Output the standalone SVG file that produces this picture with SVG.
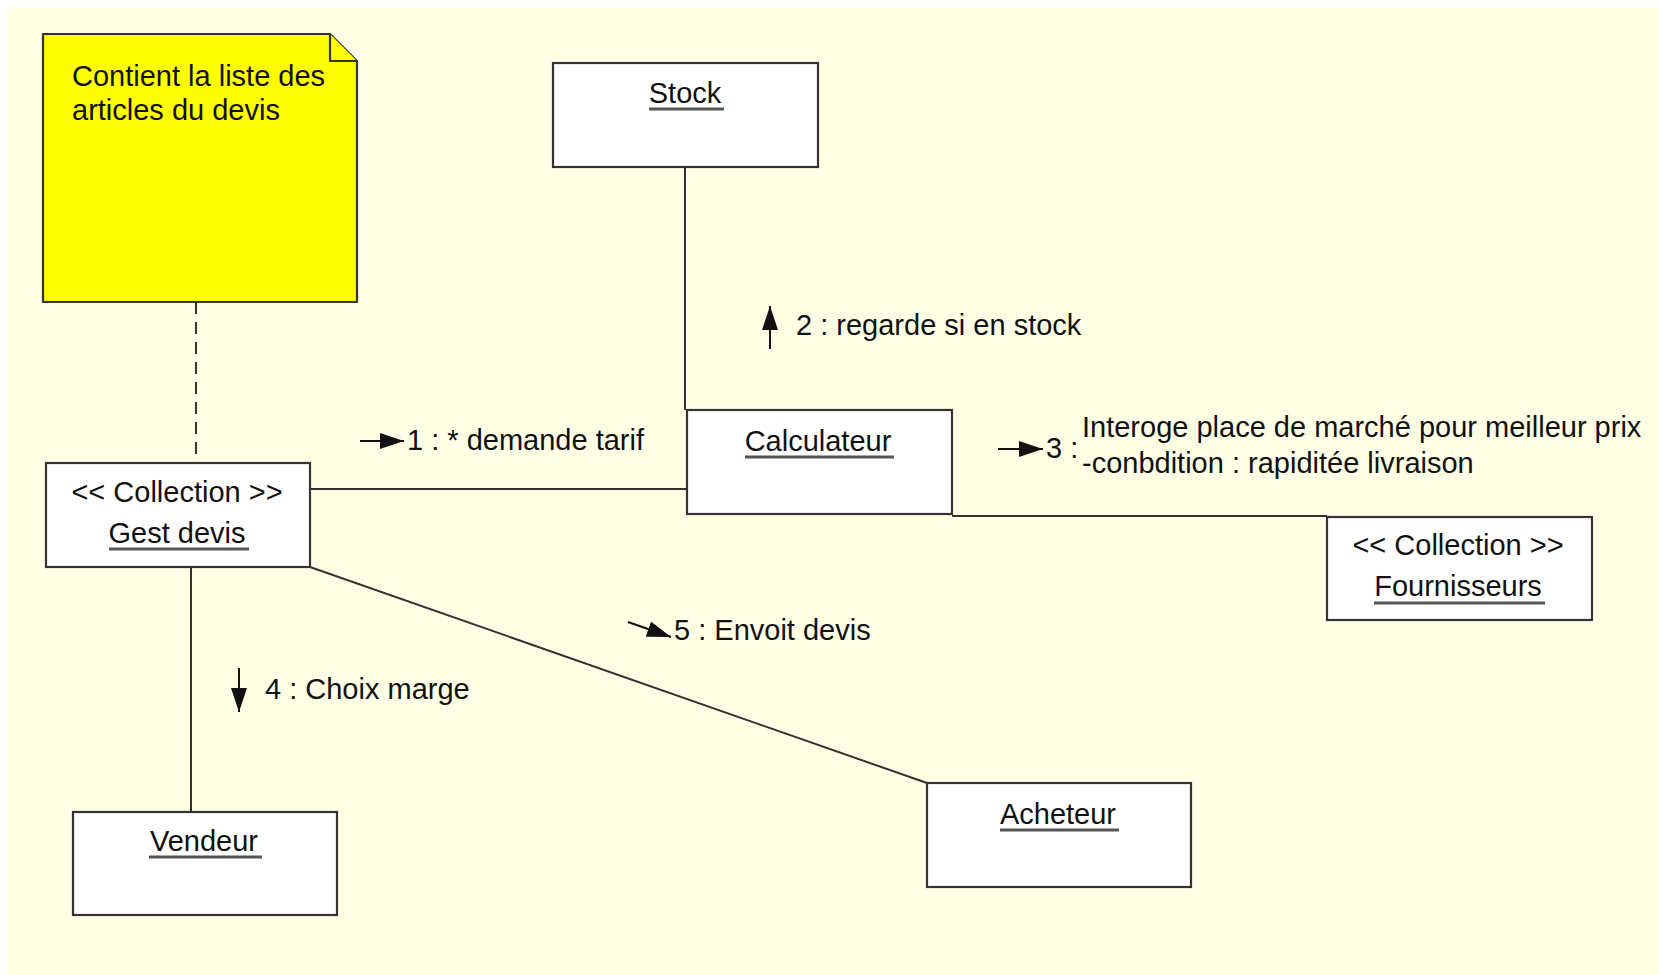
<svg xmlns="http://www.w3.org/2000/svg" width="1659" height="975" viewBox="0 0 1659 975">
<style>
  .box { fill: #ffffff; stroke: #333333; stroke-width: 2.2; }
  .note { fill: #ffff00; stroke: #333333; stroke-width: 2.2; stroke-linejoin: round; }
  .link { stroke: #333333; stroke-width: 2; fill: none; }
  .dash { stroke: #333333; stroke-width: 2; stroke-dasharray: 12 8; fill: none; }
  .msg { stroke: #111111; stroke-width: 2; fill: none; }
  .ul { stroke: #555555; stroke-width: 3; }
  text { font-family: "Liberation Sans", Arial, sans-serif; font-size: 29px; fill: #111111; }
  .c { text-anchor: middle; }
</style>
<defs>
  <marker id="ah" markerUnits="userSpaceOnUse" markerWidth="24" markerHeight="20" viewBox="0 0 24 20" refX="24" refY="10" orient="auto">
    <path d="M0,2 L24,10 L0,18 Z" fill="#111111"/>
  </marker>
</defs>
<rect x="0" y="0" width="1659" height="975" fill="#ffffff"/>
<rect x="7" y="7" width="1652" height="968" fill="#ffffe6"/>

<g id="connectors">
  <line class="dash" x1="196" y1="302" x2="196" y2="463"/>
  <line class="link" x1="685" y1="167" x2="685" y2="410"/>
  <line class="link" x1="310" y1="489" x2="687" y2="489"/>
  <line class="link" x1="952" y1="516" x2="1327" y2="516"/>
  <line class="link" x1="310" y1="567" x2="927" y2="783"/>
  <line class="link" x1="191" y1="567" x2="191" y2="812"/>
  <g id="msg1"><line class="msg" x1="360" y1="441" x2="404" y2="441" marker-end="url(#ah)"/><text x="407" y="450">1 : * demande tarif</text></g>
  <g id="msg2"><line class="msg" x1="770" y1="349" x2="770" y2="306" marker-end="url(#ah)"/><text x="796" y="335">2 : regarde si en stock</text></g>
  <g id="msg3"><line class="msg" x1="998" y1="449" x2="1043" y2="449" marker-end="url(#ah)"/><text x="1046" y="458">3 :</text><text x="1082" y="437">Interoge place de marché pour meilleur prix</text><text x="1082" y="473">-conbdition : rapiditée livraison</text></g>
  <g id="msg4"><line class="msg" x1="239" y1="668" x2="239" y2="712" marker-end="url(#ah)"/><text x="265" y="699">4 : Choix marge</text></g>
  <g id="msg5"><line class="msg" x1="628" y1="622" x2="671" y2="637" marker-end="url(#ah)"/><text x="674" y="640">5 : Envoit devis</text></g>
</g>

<g id="note">
  <path class="note" d="M43,34 L330,34 L357,61 L357,302 L43,302 Z"/>
  <path class="note" d="M330,34 L330,61 L357,61"/>
  <text x="72" y="86">Contient la liste des</text>
  <text x="72" y="120">articles du devis</text>
</g>

<g id="stock">
  <rect class="box" x="553" y="63" width="265" height="104"/>
  <text class="c" x="685" y="103">Stock</text>
  <line class="ul" x1="649" y1="109" x2="724" y2="109"/>
</g>

<g id="calculateur">
  <rect class="box" x="687" y="410" width="265" height="104"/>
  <text class="c" x="818" y="451">Calculateur</text>
  <line class="ul" x1="745" y1="457" x2="894" y2="457"/>
</g>

<g id="gestdevis">
  <rect class="box" x="46" y="463" width="264" height="104"/>
  <text class="c" x="177" y="502">&lt;&lt; Collection &gt;&gt;</text>
  <text class="c" x="177" y="543">Gest devis</text>
  <line class="ul" x1="109" y1="549" x2="249" y2="549"/>
</g>

<g id="fournisseurs">
  <rect class="box" x="1327" y="517" width="265" height="103"/>
  <text class="c" x="1458" y="555">&lt;&lt; Collection &gt;&gt;</text>
  <text class="c" x="1458" y="596">Fournisseurs</text>
  <line class="ul" x1="1374" y1="603" x2="1545" y2="603"/>
</g>

<g id="acheteur">
  <rect class="box" x="927" y="783" width="264" height="104"/>
  <text class="c" x="1058" y="824">Acheteur</text>
  <line class="ul" x1="1000" y1="830" x2="1119" y2="830"/>
</g>

<g id="vendeur">
  <rect class="box" x="73" y="812" width="264" height="103"/>
  <text class="c" x="204" y="851">Vendeur</text>
  <line class="ul" x1="149" y1="857" x2="262" y2="857"/>
</g>
</svg>
